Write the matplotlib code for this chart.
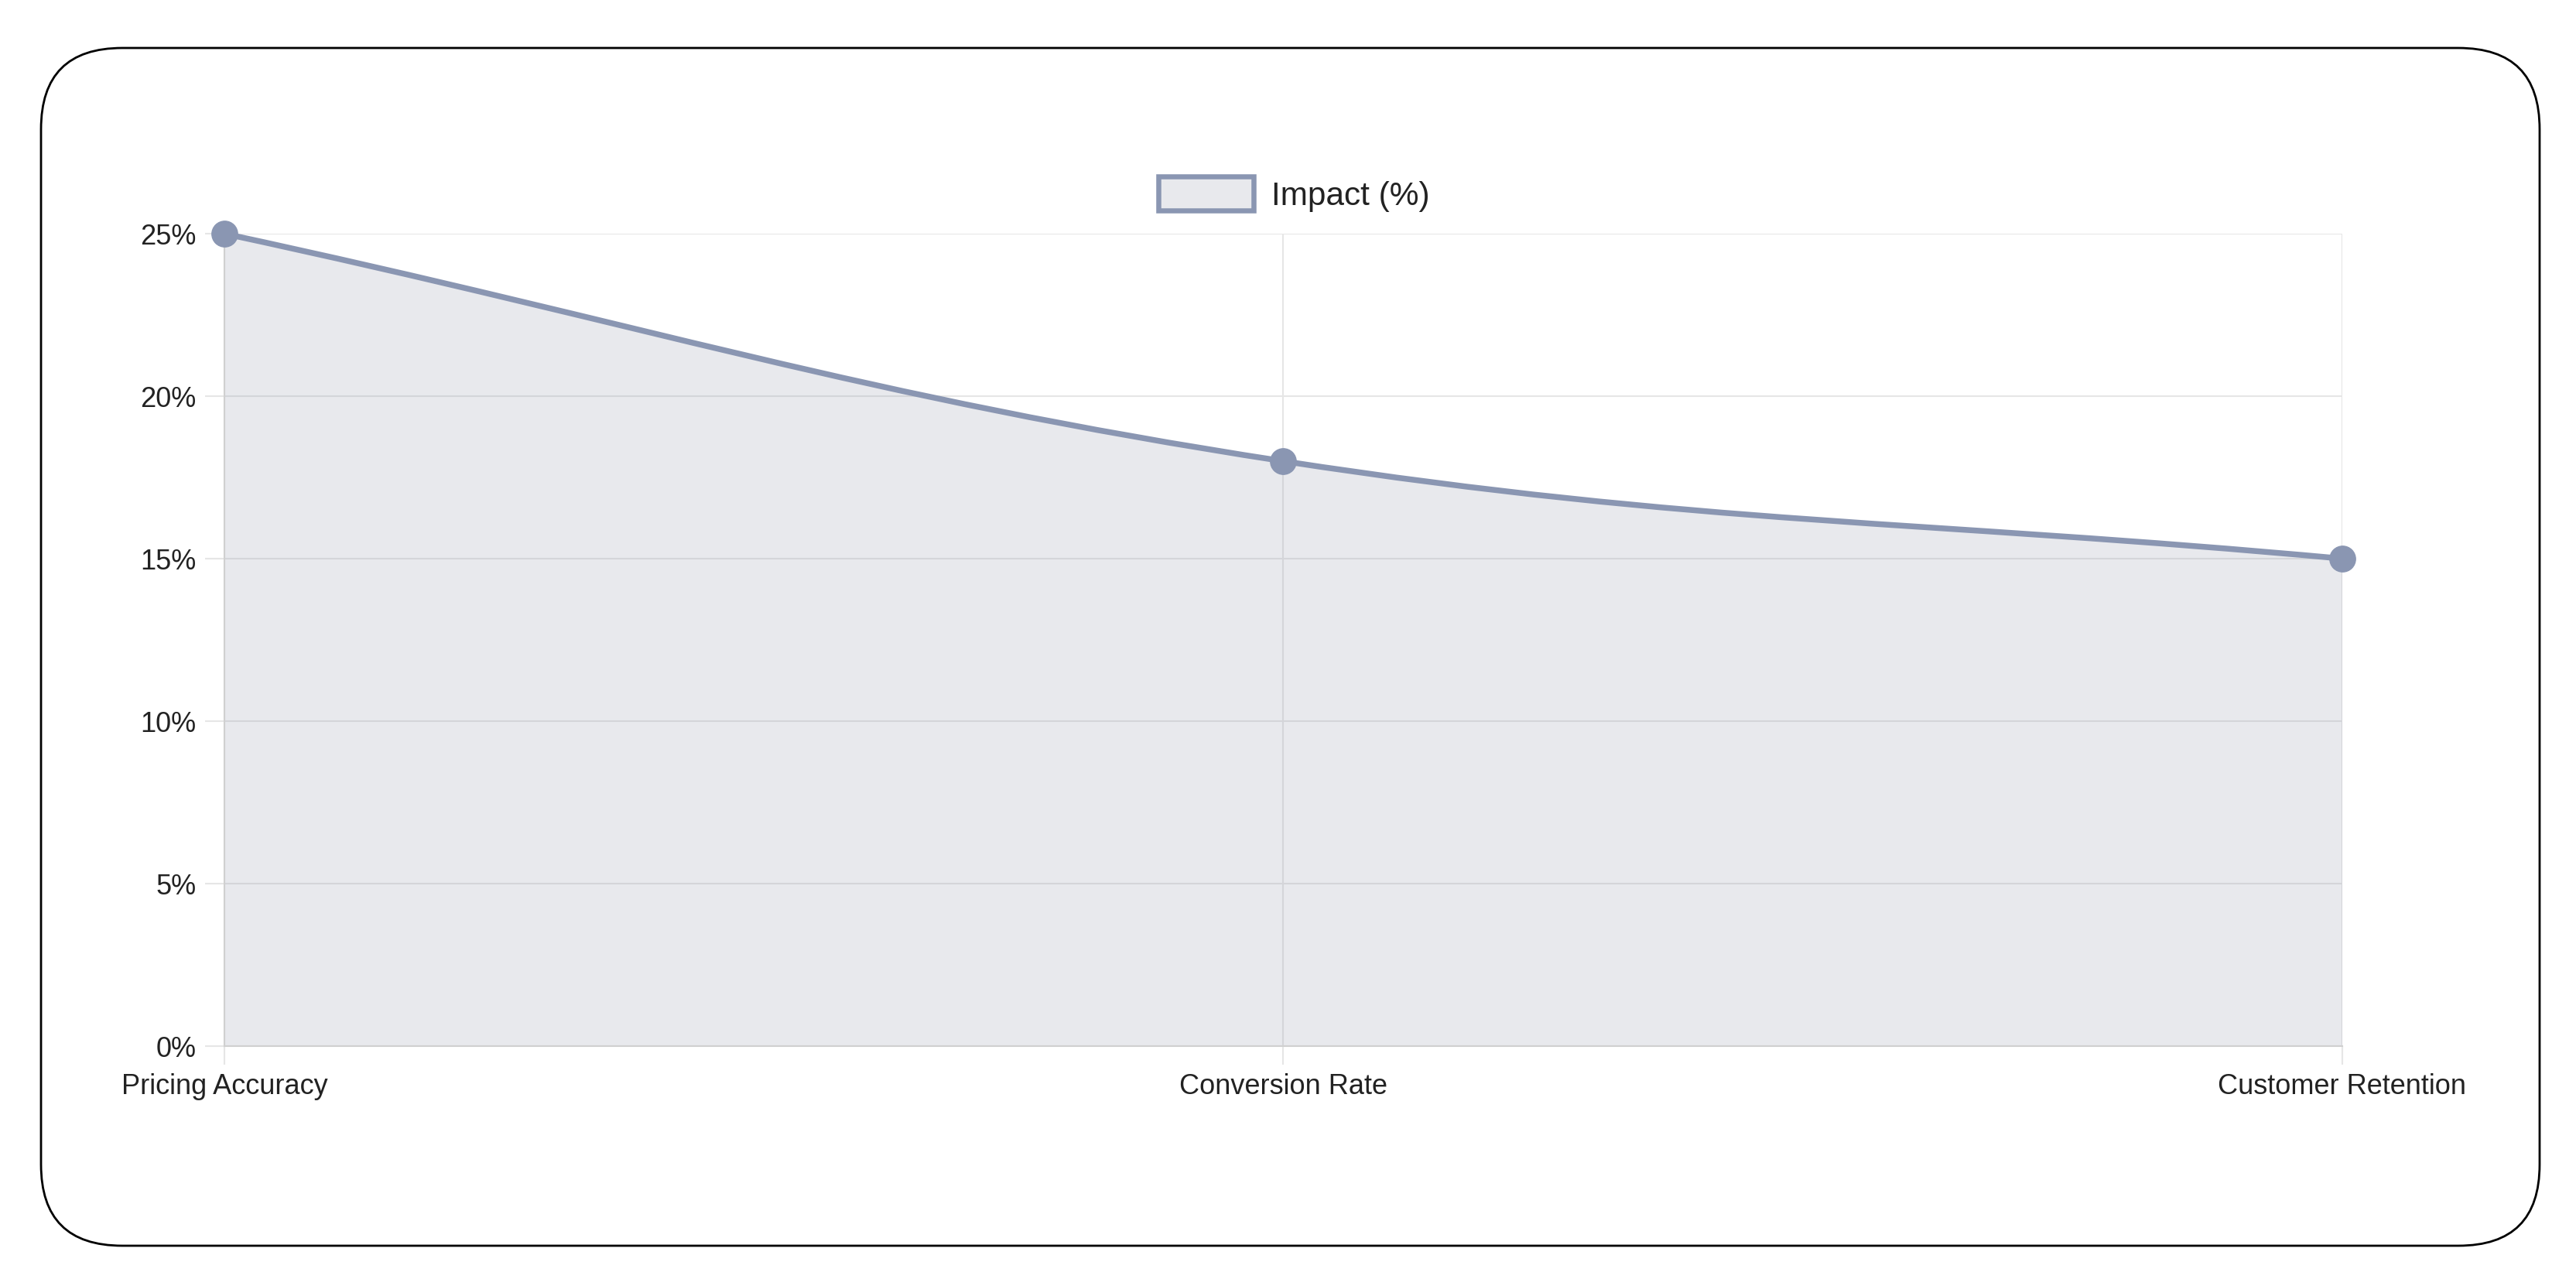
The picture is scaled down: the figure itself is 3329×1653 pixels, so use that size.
import matplotlib
matplotlib.use("Agg")
import matplotlib.pyplot as plt
import numpy as np
from matplotlib.patches import FancyBboxPatch, PathPatch, Rectangle
from matplotlib.path import Path
from matplotlib.ticker import FixedLocator

categories = ["Pricing Accuracy", "Conversion Rate", "Customer Retention"]
impact = [25, 18, 15]
y_ticks = [0, 5, 10, 15, 20, 25]
y_tick_labels = ["0%", "5%", "10%", "15%", "20%", "25%"]
series_label = "Impact (%)"

LINE_COLOR = "#8a96b2"
FILL_COLOR = "#8d95a8"
GRID_COLOR = "#e6e6e6"
AXIS_COLOR = "#d0d0d0"
TEXT_COLOR = "#222222"
TENSION = 0.4

plt.rcParams["font.family"] = ["Liberation Sans", "DejaVu Sans"]

W, H, DPI = 3330, 1653, 100
fig = plt.figure(figsize=(W / DPI, H / DPI), dpi=DPI)
fig.patch.set_facecolor("white")

# rounded outer frame
frame = FancyBboxPatch(
    (0.53, 0.43), 32.29, 15.48,
    boxstyle="round,pad=0,rounding_size=1.05",
    transform=fig.dpi_scale_trans,
    facecolor="none", edgecolor="black", linewidth=2.0, zorder=0,
)
fig.patches.append(frame)

ax = fig.add_axes([290 / W, (H - 1352) / H, (3027 - 290) / W, (1352 - 302) / H])
x = np.arange(len(categories))
ax.set_xlim(0, len(categories) - 1)
ax.set_ylim(0, 25)

# grid + tick extensions in grid colour
ax.set_axisbelow(True)
ax.yaxis.set_major_locator(FixedLocator(y_ticks))
ax.set_yticklabels(y_tick_labels)
ax.set_xticks(x)
ax.set_xticklabels(categories)
ax.grid(True, color=GRID_COLOR, linewidth=1.5, zorder=0)
ax.tick_params(axis="both", colors=GRID_COLOR, width=1.5, labelsize=26,
               labelcolor=TEXT_COLOR)
ax.tick_params(axis="x", length=17, pad=8)
ax.tick_params(axis="y", length=18, pad=8.5)
for side in ["top", "right"]:
    ax.spines[side].set_visible(False)
for side in ["left", "bottom"]:
    ax.spines[side].set_color(AXIS_COLOR)
    ax.spines[side].set_linewidth(1.5)

# chart.js style spline (tension 0.4), control points in pixel space
pts = ax.transData.transform(np.column_stack([x, impact]))
n = len(pts)
cp_prev = [None] * n
cp_next = [None] * n
for i in range(n):
    prev_p = pts[i - 1] if i > 0 else pts[i]
    next_p = pts[i + 1] if i < n - 1 else pts[i]
    d01 = np.hypot(*(pts[i] - prev_p))
    d12 = np.hypot(*(next_p - pts[i]))
    s01 = d01 / (d01 + d12)
    s12 = d12 / (d01 + d12)
    cp_prev[i] = pts[i] - TENSION * s01 * (next_p - prev_p)
    cp_next[i] = pts[i] + TENSION * s12 * (next_p - prev_p)

inv = ax.transData.inverted()
verts = [pts[0]]
codes = [Path.MOVETO]
for i in range(n - 1):
    verts += [cp_next[i], cp_prev[i + 1], pts[i + 1]]
    codes += [Path.CURVE4] * 3
verts = inv.transform(np.array(verts))
curve = Path(verts, codes)

fill_verts = np.vstack([verts, [[x[-1], 0], [x[0], 0], verts[0]]])
fill_codes = codes + [Path.LINETO, Path.LINETO, Path.CLOSEPOLY]
ax.add_patch(PathPatch(Path(fill_verts, fill_codes), facecolor=FILL_COLOR,
                       alpha=0.2, edgecolor="none", zorder=2))
ax.add_patch(PathPatch(curve, facecolor="none", edgecolor=LINE_COLOR,
                       linewidth=5.4, zorder=3, capstyle="round"))
ax.plot(x, impact, linestyle="none", marker="o", markersize=24,
        color=LINE_COLOR, zorder=4, clip_on=False)

# legend drawn by hand (chart.js style box)
to_fig = lambda px, py: (px / W, (H - py) / H)
bx0, by0 = to_fig(1497, 272)
fig.patches.append(Rectangle(
    (bx0, by0), (1620 - 1497) / W, (272 - 228) / H,
    transform=fig.transFigure, facecolor=FILL_COLOR + "33",
    edgecolor=LINE_COLOR, linewidth=4.7, zorder=5,
))
tx, ty = to_fig(1643, 250)
fig.text(tx, ty, series_label, fontsize=30.5, color=TEXT_COLOR,
         ha="left", va="center_baseline")

fig.savefig("out.png", dpi=DPI, facecolor="white")
